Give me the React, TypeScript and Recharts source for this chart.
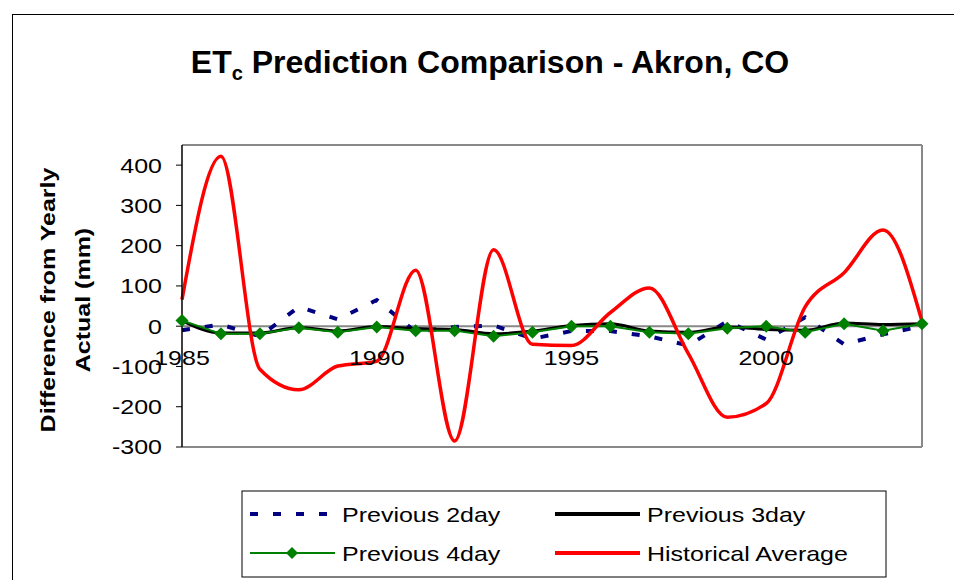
import { LineChart, Line, XAxis, YAxis, ReferenceLine, ReferenceDot } from "recharts"

const years = [1985, 1986, 1987, 1988, 1989, 1990, 1991, 1992, 1993, 1994, 1995, 1996, 1997, 1998, 1999, 2000, 2001, 2002, 2003, 2004]
const previous2day = [-10, 4, -25, 48, 17, 65, -14, -2, 2, -31, -12, -12, -25, -48, 12, -33, 22, -45, -20, 0]
const previous3day = [14, -17, -17, -3, -12, -1, -6, -8, -19, -12, 2, 6, -12, -15, -2, -8, -10, 8, 4, 6]
const previous4day = [14, -19, -19, -4, -15, -2, -11, -11, -25, -15, 0, 0, -15, -19, -5, 0, -15, 6, -11, 6]
const historicalAverage = [66, 422, -107, -158, -99, -87, 139, -285, 190, -45, -48, 34, 95, -68, -226, -192, 48, 133, 239, 12]

const yTicks = [-300, -200, -100, 0, 100, 200, 300, 400]
const yearLabels = [1985, 1990, 1995, 2000]

const data = years.map((year, i) => ({
  year,
  p2: previous2day[i],
  p3: previous3day[i],
  p4: previous4day[i],
  hist: historicalAverage[i],
}))

const FONT = '"Liberation Sans", Arial, sans-serif'
const SX = 1.19 // the source text is drawn wide
const GRAY = "#888888"

const series = [
  { key: "p2", name: "Previous 2day", color: "#000080", width: 4, dash: "8 15", curve: "linear" },
  { key: "p3", name: "Previous 3day", color: "#000000", width: 3, dash: undefined, curve: "monotone" },
  { key: "p4", name: "Previous 4day", color: "#008000", width: 2, dash: undefined, curve: "linear" },
  { key: "hist", name: "Historical Average", color: "#ff0000", width: 3.5, dash: undefined, curve: "monotone" },
]

function Diamond({ cx, cy, s = 6.5 }: any) {
  if (cx == null || cy == null) return null
  return <polygon points={`${cx},${cy - s} ${cx + s},${cy} ${cx},${cy + s} ${cx - s},${cy}`} fill="#008000" />
}

function YTick({ x, y, payload }: any) {
  return (
    <text
      transform={`translate(${x},${y}) scale(${SX},1)`}
      textAnchor="end"
      dy="0.355em"
      fontSize={21}
      fontFamily={FONT}
      fill="#000"
    >
      {payload.value}
    </text>
  )
}

function YearLabel(props: any) {
  const { cx, cy, value } = props
  return (
    <text
      transform={`translate(${cx},${cy + 31}) scale(${SX},1)`}
      textAnchor="middle"
      dy="0.355em"
      fontSize={21}
      fontFamily={FONT}
      fill="#000"
    >
      {value}
    </text>
  )
}

function LegendBox() {
  const cols = [250, 555]
  const rows = [514, 553]
  return (
    <g>
      <rect x={242} y={491} width={644} height={86} fill="#fff" stroke="#000" strokeWidth={1} />
      {series.map((s, i) => {
        const x = cols[i % 2]
        const y = rows[Math.floor(i / 2)]
        return (
          <g key={s.key}>
            <line x1={x} y1={y} x2={x + 85} y2={y} stroke={s.color} strokeWidth={s.key === "p4" ? 2 : 4} strokeDasharray={s.dash} />
            {s.key === "p4" && <Diamond cx={x + 42} cy={y} s={6} />}
            <text
              transform={`translate(${x + 92},${y + 8}) scale(${SX},1)`}
              fontSize={21}
              fontFamily={FONT}
              fill="#000"
            >
              {s.name}
            </text>
          </g>
        )
      })}
    </g>
  )
}

export default function App() {
  return (
    <div style={{ position: "fixed", left: 0, top: 0, width: 954, height: 580, overflow: "hidden", background: "#fff" }}>
      <div style={{ position: "absolute", left: 12, top: 14, width: 1000, height: 1000, border: "1px solid #000" }} />
      <div style={{ position: "absolute", left: 0, top: 0 }}>
        <LineChart width={954} height={580} data={data} margin={{ top: 145, right: 32, bottom: 133, left: 0 }}>
          <XAxis dataKey="year" type="number" domain={[1985, 2004]} hide />
          <YAxis
            width={182}
            type="number"
            domain={[-300, 450]}
            ticks={yTicks}
            allowDataOverflow
            interval={0}
            tickSize={6}
            tickMargin={14}
            tick={<YTick />}
            axisLine={{ stroke: "#000", strokeWidth: 1.5 }}
            tickLine={{ stroke: "#000" }}
          />
          <ReferenceLine y={450} stroke={GRAY} strokeWidth={2} />
          <ReferenceLine y={-300} stroke={GRAY} strokeWidth={2} />
          <ReferenceLine x={2004} stroke={GRAY} strokeWidth={2} />
          <ReferenceLine y={0} stroke={GRAY} strokeWidth={2} />
          {yearLabels.map((yr) => (
            <ReferenceDot key={yr} x={yr} y={0} r={0} shape={(p: any) => <YearLabel {...p} value={yr} />} />
          ))}
          {series.map((s) => (
            <Line
              key={s.key}
              dataKey={s.key}
              name={s.name}
              type={s.curve as any}
              stroke={s.color}
              strokeWidth={s.width}
              strokeDasharray={s.dash}
              dot={s.key === "p4" ? (p: any) => <Diamond key={p.index} cx={p.cx} cy={p.cy} /> : false}
              activeDot={false}
              isAnimationActive={false}
            />
          ))}
        </LineChart>
      </div>
      <svg width={954} height={580} style={{ position: "absolute", left: 0, top: 0, pointerEvents: "none" }}>
        <text x={490} y={73} textAnchor="middle" fontSize={32} fontWeight="bold" fontFamily={FONT} fill="#000">
          ET
          <tspan fontSize={20} dy={7}>c</tspan>
          <tspan dy={-7}>{" Prediction Comparison - Akron, CO"}</tspan>
        </text>
        <text
          transform={`translate(55,300) rotate(-90) scale(${SX},1)`}
          textAnchor="middle"
          fontSize={21}
          fontWeight="bold"
          fontFamily={FONT}
          fill="#000"
        >
          <tspan x={0} dy={0}>Difference from Yearly</tspan>
          <tspan x={0} dy={35}>Actual (mm)</tspan>
        </text>
        <LegendBox />
      </svg>
    </div>
  )
}
